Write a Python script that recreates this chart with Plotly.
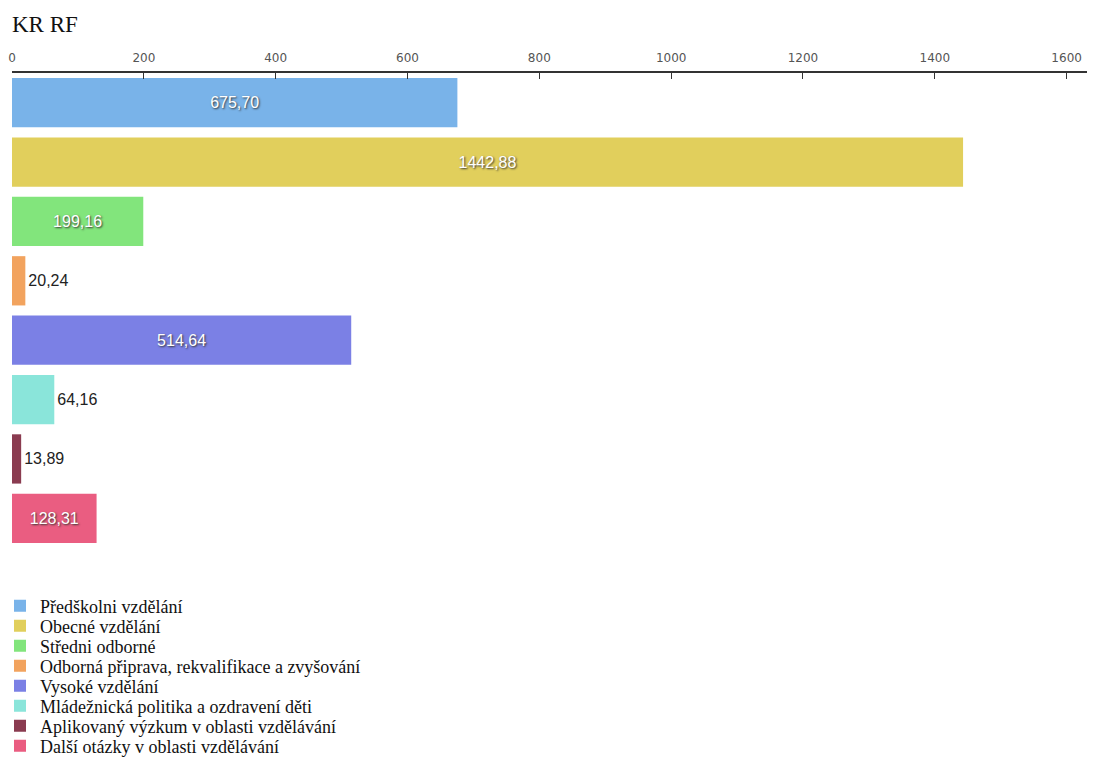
import plotly.graph_objects as go

title = "KR RF"
categories = [
    "Předškolni vzdělání",
    "Obecné vzdělání",
    "Středni odborné",
    "Odborná připrava, rekvalifikace a zvyšování",
    "Vysoké vzdělání",
    "Mládežnická politika a ozdravení děti",
    "Aplikovaný výzkum v oblasti vzdělávání",
    "Další otázky v oblasti vzdělávání",
]
values = [675.70, 1442.88, 199.16, 20.24, 514.64, 64.16, 13.89, 128.31]
colors = ["#79b3e9", "#e1cf5c", "#82e57c", "#f2a35e", "#7b80e5", "#8ae5da", "#8a3b50", "#ea5d81"]
tick_vals = [0, 200, 400, 600, 800, 1000, 1200, 1400, 1600]

# page body has an 8px margin, so the figure is sized to fit the 1095x758 window
W, H = 1087, 750
legend_top_px = 598   # centre of first legend row (figure coords)
legend_step_px = 20

fig = go.Figure()
layout_legends = {}
for i, (cat, val, col) in enumerate(zip(categories, values, colors)):
    label = f"{val:.2f}".replace(".", ",")
    inside = val > 100
    lg = "legend" if i == 0 else f"legend{i + 1}"
    fig.add_trace(go.Bar(
        y=[cat], x=[val], orientation="h", name=cat, legend=lg,
        marker=dict(color=col, line=dict(width=0)),
        text=[label],
        textposition="inside" if inside else "outside",
        insidetextanchor="middle",
        insidetextfont=dict(family="Liberation Sans, Arial, sans-serif", size=16, color="white",
                            shadow="1px 1px 2px #333"),
        outsidetextfont=dict(family="Liberation Sans, Arial, sans-serif", size=16, color="#222"),
        cliponaxis=False,
        hoverinfo="x+name",
    ))
    layout_legends[lg] = dict(
        xref="container", yref="container", x=0, xanchor="left", indentation=-8,
        y=1 - (legend_top_px + i * legend_step_px) / H, yanchor="middle",
        font=dict(family="Liberation Serif, Times New Roman, serif", size=18, color="#111"),
        bgcolor="rgba(0,0,0,0)", itemclick=False, borderwidth=0,
    )

fig.update_layout(
    width=W, height=H,
    margin=dict(l=4, r=2, t=65, b=210, autoexpand=False),
    paper_bgcolor="white", plot_bgcolor="white",
    barmode="overlay", bargap=0.17,
    title=dict(text=title, x=4 / W, xref="container", xanchor="left", y=1 - 8 / H, yanchor="top",
               font=dict(family="Liberation Serif, Times New Roman, serif", size=23, color="#111")),
    xaxis=dict(
        side="top", range=[0, 1640], tickvals=tick_vals,
        ticks="inside", ticklen=6, tickcolor="#333", tickwidth=1,
        showline=True, linecolor="#333", linewidth=1.5,
        showgrid=False, zeroline=False,
        tickfont=dict(family="DejaVu Sans, Verdana, sans-serif", size=12, color="#555"),
        ticklabelstandoff=4,
    ),
    yaxis=dict(
        categoryorder="array", categoryarray=categories, autorange="reversed",
        showticklabels=False, showgrid=False, zeroline=False, showline=False, ticks="",
    ),
    showlegend=True,
    **layout_legends,
)

fig.write_html("out.html")
